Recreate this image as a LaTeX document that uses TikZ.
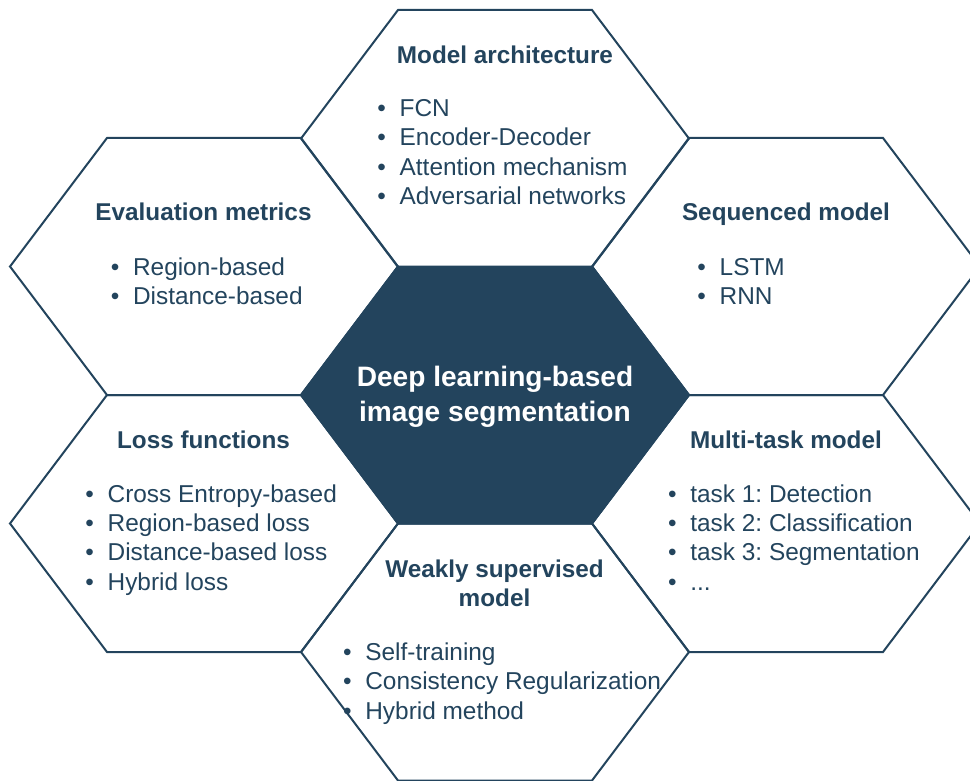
\documentclass[tikz,border=0pt]{standalone}
\usepackage{fontspec}
\setmainfont{Liberation Sans}
\frenchspacing
\definecolor{navy}{HTML}{23445D}
\newcommand\bul{\makebox[11.15pt][l]{•}}
\newcommand\mydots{...}
\newcommand\hexat[3][]{%
  \draw[hexline,#1] ({#2-194},#3) -- ({#2-97},{#3-128.5}) -- ({#2+97},{#3-128.5})
   -- ({#2+194},#3) -- ({#2+97},{#3+128.5}) -- ({#2-97},{#3+128.5}) -- cycle;}
\tikzset{
  hexline/.style={draw=navy, line width=1pt, line join=miter},
  title/.style={anchor=base, inner sep=0pt, text=navy, font=\fontsize{12.15pt}{14.6pt}\selectfont\bfseries},
  item/.style={anchor=base west, inner sep=0pt, text=navy, font=\fontsize{12.2pt}{14.6pt}\selectfont\frenchspacing},
  centertext/.style={anchor=base, inner sep=0pt, text=white, font=\fontsize{14.05pt}{17.5pt}\selectfont\bfseries}
}
\begin{document}
\begin{tikzpicture}[x=0.5pt, y=-0.5pt]
\useasboundingbox (0,0) rectangle (970,781);
\begin{scope}
\clip (0,0) rectangle (970,781);
% centre hexagon
\hexat[fill=navy]{495}{395}
% surrounding hexagons
\hexat{495}{138.5}
\hexat{204}{266.5}
\hexat{786}{266.5}
\hexat{204}{523.5}
\hexat{786}{523.5}
\hexat{495}{652}
\end{scope}
% centre text
\node[centertext] (c1) at (495,386.7) {Deep learning-based};
\node[centertext] (c2) at (495,421.7) {image segmentation};
% titles
\node[title] (t1) at (505,63.3) {Model architecture};
\node[title] (t2) at (203.5,220.5) {Evaluation metrics};
\node[title] (t3) at (786,220.5) {Sequenced model};
\node[title] (t4) at (203.5,448.5) {Loss functions};
\node[title] (t5) at (786,448.5) {Multi-task model};
\node[title] (t6a) at (494.5,577.5) {Weakly supervised};
\node[title] (t6b) at (494.5,606.5) {model};
% lists
\foreach \t [count=\i] in {FCN, Encoder-Decoder, Attention mechanism, Adversarial networks}
  \node[item] (ma\i) at (377,{116.7+29.2*(\i-1)}) {\bul\t};
\foreach \t [count=\i] in {Region-based, Distance-based}
  \node[item] (em\i) at (110.4,{275+29.2*(\i-1)}) {\bul\t};
\foreach \t [count=\i] in {LSTM, RNN}
  \node[item] (sm\i) at (697,{275+29.2*(\i-1)}) {\bul\t};
\foreach \t [count=\i] in {Cross Entropy-based, Region-based loss, Distance-based loss, Hybrid loss}
  \node[item] (lf\i) at (85,{502.5+29.2*(\i-1)}) {\bul\t};
\foreach \t [count=\i] in {task 1: Detection, task 2: Classification, task 3: Segmentation, \mydots}
  \node[item] (mt\i) at (667.7,{502.5+29.2*(\i-1)}) {\bul\t};
\foreach \t [count=\i] in {Self-training, Consistency Regularization, Hybrid method}
  \node[item] (ws\i) at (342.7,{660+29.5*(\i-1)}) {\bul\t};
\end{tikzpicture}
\end{document}
